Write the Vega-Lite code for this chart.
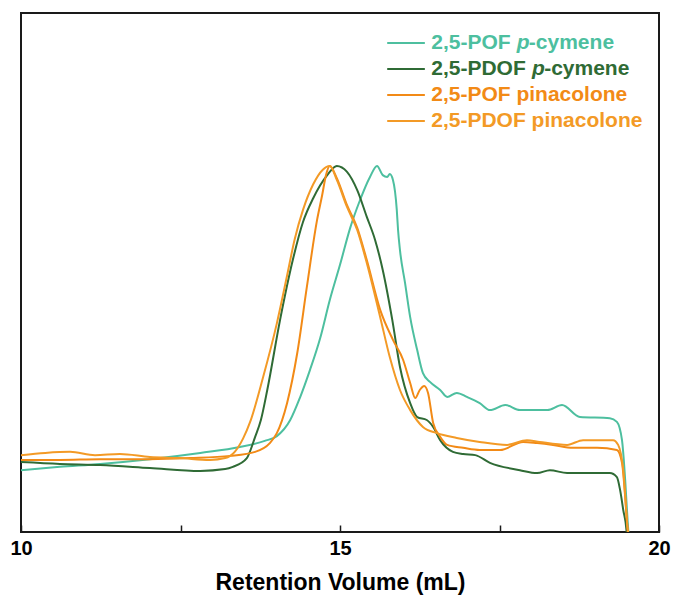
{
  "$schema": "https://vega.github.io/schema/vega-lite/v6.json",
  "width": 638,
  "height": 519,
  "autosize": {"type": "none"},
  "padding": {"left": 21, "top": 13, "right": 14, "bottom": 71},
  "background": "#ffffff",
  "config": {
    "view": {"stroke": "#1a1a1a", "strokeWidth": 2},
    "font": "Liberation Sans"
  },
  "datasets": {
    "traces": [
      {"series": "2,5-POF p-cymene", "v": 10.00, "i": 0.169},
      {"series": "2,5-POF p-cymene", "v": 10.61, "i": 0.178},
      {"series": "2,5-POF p-cymene", "v": 11.24, "i": 0.186},
      {"series": "2,5-POF p-cymene", "v": 12.02, "i": 0.199},
      {"series": "2,5-POF p-cymene", "v": 12.81, "i": 0.216},
      {"series": "2,5-POF p-cymene", "v": 13.43, "i": 0.232},
      {"series": "2,5-POF p-cymene", "v": 13.82, "i": 0.249},
      {"series": "2,5-POF p-cymene", "v": 14.01, "i": 0.262},
      {"series": "2,5-POF p-cymene", "v": 14.22, "i": 0.306},
      {"series": "2,5-POF p-cymene", "v": 14.37, "i": 0.366},
      {"series": "2,5-POF p-cymene", "v": 14.53, "i": 0.443},
      {"series": "2,5-POF p-cymene", "v": 14.69, "i": 0.530},
      {"series": "2,5-POF p-cymene", "v": 14.84, "i": 0.634},
      {"series": "2,5-POF p-cymene", "v": 15.00, "i": 0.730},
      {"series": "2,5-POF p-cymene", "v": 15.16, "i": 0.831},
      {"series": "2,5-POF p-cymene", "v": 15.31, "i": 0.905},
      {"series": "2,5-POF p-cymene", "v": 15.47, "i": 0.970},
      {"series": "2,5-POF p-cymene", "v": 15.58, "i": 1.000},
      {"series": "2,5-POF p-cymene", "v": 15.67, "i": 0.975},
      {"series": "2,5-POF p-cymene", "v": 15.74, "i": 0.970},
      {"series": "2,5-POF p-cymene", "v": 15.78, "i": 0.978},
      {"series": "2,5-POF p-cymene", "v": 15.83, "i": 0.962},
      {"series": "2,5-POF p-cymene", "v": 15.89, "i": 0.880},
      {"series": "2,5-POF p-cymene", "v": 15.91, "i": 0.825},
      {"series": "2,5-POF p-cymene", "v": 15.94, "i": 0.770},
      {"series": "2,5-POF p-cymene", "v": 16.02, "i": 0.680},
      {"series": "2,5-POF p-cymene", "v": 16.10, "i": 0.587},
      {"series": "2,5-POF p-cymene", "v": 16.21, "i": 0.497},
      {"series": "2,5-POF p-cymene", "v": 16.30, "i": 0.434},
      {"series": "2,5-POF p-cymene", "v": 16.41, "i": 0.410},
      {"series": "2,5-POF p-cymene", "v": 16.57, "i": 0.388},
      {"series": "2,5-POF p-cymene", "v": 16.68, "i": 0.369},
      {"series": "2,5-POF p-cymene", "v": 16.83, "i": 0.380},
      {"series": "2,5-POF p-cymene", "v": 16.99, "i": 0.369},
      {"series": "2,5-POF p-cymene", "v": 17.19, "i": 0.352},
      {"series": "2,5-POF p-cymene", "v": 17.35, "i": 0.333},
      {"series": "2,5-POF p-cymene", "v": 17.59, "i": 0.347},
      {"series": "2,5-POF p-cymene", "v": 17.82, "i": 0.333},
      {"series": "2,5-POF p-cymene", "v": 18.25, "i": 0.333},
      {"series": "2,5-POF p-cymene", "v": 18.48, "i": 0.347},
      {"series": "2,5-POF p-cymene", "v": 18.76, "i": 0.314},
      {"series": "2,5-POF p-cymene", "v": 19.23, "i": 0.311},
      {"series": "2,5-POF p-cymene", "v": 19.34, "i": 0.301},
      {"series": "2,5-POF p-cymene", "v": 19.42, "i": 0.251},
      {"series": "2,5-POF p-cymene", "v": 19.47, "i": 0.142},
      {"series": "2,5-POF p-cymene", "v": 19.51, "i": 0.025},
      {"series": "2,5-POF p-cymene", "v": 19.53, "i": -0.022},

      {"series": "2,5-PDOF p-cymene", "v": 10.00, "i": 0.191},
      {"series": "2,5-PDOF p-cymene", "v": 10.61, "i": 0.186},
      {"series": "2,5-PDOF p-cymene", "v": 11.24, "i": 0.183},
      {"series": "2,5-PDOF p-cymene", "v": 12.02, "i": 0.175},
      {"series": "2,5-PDOF p-cymene", "v": 12.81, "i": 0.167},
      {"series": "2,5-PDOF p-cymene", "v": 13.20, "i": 0.172},
      {"series": "2,5-PDOF p-cymene", "v": 13.32, "i": 0.178},
      {"series": "2,5-PDOF p-cymene", "v": 13.54, "i": 0.202},
      {"series": "2,5-PDOF p-cymene", "v": 13.67, "i": 0.260},
      {"series": "2,5-PDOF p-cymene", "v": 13.76, "i": 0.306},
      {"series": "2,5-PDOF p-cymene", "v": 13.86, "i": 0.388},
      {"series": "2,5-PDOF p-cymene", "v": 14.06, "i": 0.579},
      {"series": "2,5-PDOF p-cymene", "v": 14.26, "i": 0.743},
      {"series": "2,5-PDOF p-cymene", "v": 14.42, "i": 0.847},
      {"series": "2,5-PDOF p-cymene", "v": 14.58, "i": 0.912},
      {"series": "2,5-PDOF p-cymene", "v": 14.80, "i": 0.975},
      {"series": "2,5-PDOF p-cymene", "v": 14.95, "i": 1.000},
      {"series": "2,5-PDOF p-cymene", "v": 15.11, "i": 0.984},
      {"series": "2,5-PDOF p-cymene", "v": 15.27, "i": 0.934},
      {"series": "2,5-PDOF p-cymene", "v": 15.42, "i": 0.861},
      {"series": "2,5-PDOF p-cymene", "v": 15.55, "i": 0.798},
      {"series": "2,5-PDOF p-cymene", "v": 15.67, "i": 0.716},
      {"series": "2,5-PDOF p-cymene", "v": 15.82, "i": 0.579},
      {"series": "2,5-PDOF p-cymene", "v": 15.94, "i": 0.451},
      {"series": "2,5-PDOF p-cymene", "v": 16.10, "i": 0.352},
      {"series": "2,5-PDOF p-cymene", "v": 16.21, "i": 0.314},
      {"series": "2,5-PDOF p-cymene", "v": 16.36, "i": 0.306},
      {"series": "2,5-PDOF p-cymene", "v": 16.46, "i": 0.287},
      {"series": "2,5-PDOF p-cymene", "v": 16.57, "i": 0.251},
      {"series": "2,5-PDOF p-cymene", "v": 16.77, "i": 0.219},
      {"series": "2,5-PDOF p-cymene", "v": 16.93, "i": 0.213},
      {"series": "2,5-PDOF p-cymene", "v": 17.12, "i": 0.210},
      {"series": "2,5-PDOF p-cymene", "v": 17.35, "i": 0.189},
      {"series": "2,5-PDOF p-cymene", "v": 17.82, "i": 0.169},
      {"series": "2,5-PDOF p-cymene", "v": 18.09, "i": 0.161},
      {"series": "2,5-PDOF p-cymene", "v": 18.29, "i": 0.169},
      {"series": "2,5-PDOF p-cymene", "v": 18.56, "i": 0.161},
      {"series": "2,5-PDOF p-cymene", "v": 19.23, "i": 0.161},
      {"series": "2,5-PDOF p-cymene", "v": 19.34, "i": 0.150},
      {"series": "2,5-PDOF p-cymene", "v": 19.39, "i": 0.115},
      {"series": "2,5-PDOF p-cymene", "v": 19.44, "i": 0.060},
      {"series": "2,5-PDOF p-cymene", "v": 19.49, "i": 0.005},
      {"series": "2,5-PDOF p-cymene", "v": 19.50, "i": -0.022},

      {"series": "2,5-POF pinacolone", "v": 10.00, "i": 0.197},
      {"series": "2,5-POF pinacolone", "v": 10.61, "i": 0.197},
      {"series": "2,5-POF pinacolone", "v": 11.24, "i": 0.199},
      {"series": "2,5-POF pinacolone", "v": 12.02, "i": 0.199},
      {"series": "2,5-POF pinacolone", "v": 12.65, "i": 0.202},
      {"series": "2,5-POF pinacolone", "v": 13.28, "i": 0.208},
      {"series": "2,5-POF pinacolone", "v": 13.67, "i": 0.219},
      {"series": "2,5-POF pinacolone", "v": 13.90, "i": 0.243},
      {"series": "2,5-POF pinacolone", "v": 14.01, "i": 0.270},
      {"series": "2,5-POF pinacolone", "v": 14.17, "i": 0.352},
      {"series": "2,5-POF pinacolone", "v": 14.33, "i": 0.489},
      {"series": "2,5-POF pinacolone", "v": 14.48, "i": 0.669},
      {"series": "2,5-POF pinacolone", "v": 14.64, "i": 0.852},
      {"series": "2,5-POF pinacolone", "v": 14.72, "i": 0.920},
      {"series": "2,5-POF pinacolone", "v": 14.78, "i": 0.975},
      {"series": "2,5-POF pinacolone", "v": 14.84, "i": 1.000},
      {"series": "2,5-POF pinacolone", "v": 14.95, "i": 0.967},
      {"series": "2,5-POF pinacolone", "v": 15.11, "i": 0.893},
      {"series": "2,5-POF pinacolone", "v": 15.27, "i": 0.831},
      {"series": "2,5-POF pinacolone", "v": 15.42, "i": 0.743},
      {"series": "2,5-POF pinacolone", "v": 15.63, "i": 0.607},
      {"series": "2,5-POF pinacolone", "v": 15.83, "i": 0.525},
      {"series": "2,5-POF pinacolone", "v": 15.99, "i": 0.470},
      {"series": "2,5-POF pinacolone", "v": 16.10, "i": 0.407},
      {"series": "2,5-POF pinacolone", "v": 16.18, "i": 0.366},
      {"series": "2,5-POF pinacolone", "v": 16.25, "i": 0.388},
      {"series": "2,5-POF pinacolone", "v": 16.32, "i": 0.399},
      {"series": "2,5-POF pinacolone", "v": 16.38, "i": 0.380},
      {"series": "2,5-POF pinacolone", "v": 16.46, "i": 0.298},
      {"series": "2,5-POF pinacolone", "v": 16.57, "i": 0.260},
      {"series": "2,5-POF pinacolone", "v": 16.68, "i": 0.238},
      {"series": "2,5-POF pinacolone", "v": 16.93, "i": 0.230},
      {"series": "2,5-POF pinacolone", "v": 17.19, "i": 0.224},
      {"series": "2,5-POF pinacolone", "v": 17.51, "i": 0.224},
      {"series": "2,5-POF pinacolone", "v": 17.87, "i": 0.246},
      {"series": "2,5-POF pinacolone", "v": 18.09, "i": 0.243},
      {"series": "2,5-POF pinacolone", "v": 18.34, "i": 0.238},
      {"series": "2,5-POF pinacolone", "v": 18.65, "i": 0.230},
      {"series": "2,5-POF pinacolone", "v": 19.03, "i": 0.230},
      {"series": "2,5-POF pinacolone", "v": 19.34, "i": 0.224},
      {"series": "2,5-POF pinacolone", "v": 19.42, "i": 0.189},
      {"series": "2,5-POF pinacolone", "v": 19.47, "i": 0.096},
      {"series": "2,5-POF pinacolone", "v": 19.51, "i": 0.005},
      {"series": "2,5-POF pinacolone", "v": 19.53, "i": -0.022},

      {"series": "2,5-PDOF pinacolone", "v": 10.00, "i": 0.210},
      {"series": "2,5-PDOF pinacolone", "v": 10.38, "i": 0.216},
      {"series": "2,5-PDOF pinacolone", "v": 10.77, "i": 0.219},
      {"series": "2,5-PDOF pinacolone", "v": 11.16, "i": 0.210},
      {"series": "2,5-PDOF pinacolone", "v": 11.55, "i": 0.213},
      {"series": "2,5-PDOF pinacolone", "v": 12.02, "i": 0.205},
      {"series": "2,5-PDOF pinacolone", "v": 12.49, "i": 0.202},
      {"series": "2,5-PDOF pinacolone", "v": 12.96, "i": 0.197},
      {"series": "2,5-PDOF pinacolone", "v": 13.20, "i": 0.202},
      {"series": "2,5-PDOF pinacolone", "v": 13.35, "i": 0.219},
      {"series": "2,5-PDOF pinacolone", "v": 13.48, "i": 0.255},
      {"series": "2,5-PDOF pinacolone", "v": 13.59, "i": 0.300},
      {"series": "2,5-PDOF pinacolone", "v": 13.79, "i": 0.420},
      {"series": "2,5-PDOF pinacolone", "v": 14.01, "i": 0.570},
      {"series": "2,5-PDOF pinacolone", "v": 14.17, "i": 0.700},
      {"series": "2,5-PDOF pinacolone", "v": 14.29, "i": 0.800},
      {"series": "2,5-PDOF pinacolone", "v": 14.42, "i": 0.880},
      {"series": "2,5-PDOF pinacolone", "v": 14.58, "i": 0.950},
      {"series": "2,5-PDOF pinacolone", "v": 14.73, "i": 0.990},
      {"series": "2,5-PDOF pinacolone", "v": 14.84, "i": 1.000},
      {"series": "2,5-PDOF pinacolone", "v": 14.95, "i": 0.962},
      {"series": "2,5-PDOF pinacolone", "v": 15.11, "i": 0.888},
      {"series": "2,5-PDOF pinacolone", "v": 15.27, "i": 0.825},
      {"series": "2,5-PDOF pinacolone", "v": 15.42, "i": 0.735},
      {"series": "2,5-PDOF pinacolone", "v": 15.63, "i": 0.587},
      {"series": "2,5-PDOF pinacolone", "v": 15.78, "i": 0.478},
      {"series": "2,5-PDOF pinacolone", "v": 15.94, "i": 0.388},
      {"series": "2,5-PDOF pinacolone", "v": 16.10, "i": 0.333},
      {"series": "2,5-PDOF pinacolone", "v": 16.30, "i": 0.287},
      {"series": "2,5-PDOF pinacolone", "v": 16.52, "i": 0.270},
      {"series": "2,5-PDOF pinacolone", "v": 16.83, "i": 0.257},
      {"series": "2,5-PDOF pinacolone", "v": 17.19, "i": 0.246},
      {"series": "2,5-PDOF pinacolone", "v": 17.62, "i": 0.238},
      {"series": "2,5-PDOF pinacolone", "v": 17.93, "i": 0.251},
      {"series": "2,5-PDOF pinacolone", "v": 18.13, "i": 0.246},
      {"series": "2,5-PDOF pinacolone", "v": 18.56, "i": 0.238},
      {"series": "2,5-PDOF pinacolone", "v": 18.81, "i": 0.251},
      {"series": "2,5-PDOF pinacolone", "v": 19.28, "i": 0.251},
      {"series": "2,5-PDOF pinacolone", "v": 19.36, "i": 0.238},
      {"series": "2,5-PDOF pinacolone", "v": 19.44, "i": 0.169},
      {"series": "2,5-PDOF pinacolone", "v": 19.51, "i": 0.005},
      {"series": "2,5-PDOF pinacolone", "v": 19.53, "i": -0.022}
    ],
    "keyLines": [
      {"series": "2,5-POF p-cymene", "x1": 15.74, "x2": 16.33, "y": 1.336},
      {"series": "2,5-PDOF p-cymene", "x1": 15.74, "x2": 16.33, "y": 1.265},
      {"series": "2,5-POF pinacolone", "x1": 15.74, "x2": 16.33, "y": 1.194},
      {"series": "2,5-PDOF pinacolone", "x1": 15.74, "x2": 16.33, "y": 1.123}
    ],
    "keyText": [
      {"series": "2,5-POF p-cymene", "x": 16.43, "y": 1.336, "text": "2,5-POF", "italic": false},
      {"series": "2,5-POF p-cymene", "x": 17.77, "y": 1.336, "text": "p", "italic": true},
      {"series": "2,5-POF p-cymene", "x": 17.96, "y": 1.336, "text": "-cymene", "italic": false},
      {"series": "2,5-PDOF p-cymene", "x": 16.43, "y": 1.265, "text": "2,5-PDOF", "italic": false},
      {"series": "2,5-PDOF p-cymene", "x": 18.01, "y": 1.265, "text": "p", "italic": true},
      {"series": "2,5-PDOF p-cymene", "x": 18.20, "y": 1.265, "text": "-cymene", "italic": false},
      {"series": "2,5-POF pinacolone", "x": 16.43, "y": 1.194, "text": "2,5-POF pinacolone", "italic": false},
      {"series": "2,5-PDOF pinacolone", "x": 16.43, "y": 1.123, "text": "2,5-PDOF pinacolone", "italic": false}
    ]
  },
  "layer": [
    {
      "data": {"name": "traces"},
      "mark": {"type": "line", "strokeWidth": 2, "interpolate": "monotone", "clip": true},
      "encoding": {
        "x": {
          "field": "v", "type": "quantitative",
          "scale": {"domain": [10, 20], "nice": false, "zero": false},
          "axis": {
            "title": "Retention Volume (mL)",
            "values": [10, 12.5, 15, 17.5, 20],
            "labelExpr": "datum.value % 5 === 0 ? format(datum.value, 'd') : ''",
            "grid": false, "domain": false,
            "tickColor": "#1a1a1a", "tickWidth": 1.5, "tickSize": -7,
            "labelPadding": 13, "labelFontSize": 20, "labelFontWeight": "bold",
            "labelColor": "#000000", "labelFont": "Liberation Sans",
            "labelFlush": false,
            "titleFontSize": 23, "titleFontWeight": "bold", "titleColor": "#000000",
            "titleFont": "Liberation Sans", "titlePadding": 13
          }
        },
        "y": {
          "field": "i", "type": "quantitative",
          "scale": {"domain": [0, 1.418], "nice": false, "zero": false},
          "axis": null
        },
        "color": {
          "field": "series", "type": "nominal",
          "scale": {
            "domain": ["2,5-POF p-cymene", "2,5-PDOF p-cymene", "2,5-POF pinacolone", "2,5-PDOF pinacolone"],
            "range": ["#4dbf9f", "#2f6b35", "#f28a16", "#f39a26"]
          },
          "legend": null
        },
        "detail": {"field": "series"}
      }
    },
    {
      "data": {"name": "keyLines"},
      "mark": {"type": "rule", "strokeWidth": 2},
      "encoding": {
        "x": {"field": "x1", "type": "quantitative"},
        "x2": {"field": "x2"},
        "y": {"field": "y", "type": "quantitative"},
        "color": {"field": "series", "type": "nominal", "legend": null}
      }
    },
    {
      "data": {"name": "keyText"},
      "transform": [{"filter": "!datum.italic"}],
      "mark": {"type": "text", "align": "left", "baseline": "middle", "fontSize": 21, "fontWeight": "bold", "font": "Liberation Sans"},
      "encoding": {
        "x": {"field": "x", "type": "quantitative"},
        "y": {"field": "y", "type": "quantitative"},
        "text": {"field": "text"},
        "color": {"field": "series", "type": "nominal", "legend": null}
      }
    },
    {
      "data": {"name": "keyText"},
      "transform": [{"filter": "datum.italic"}],
      "mark": {"type": "text", "align": "left", "baseline": "middle", "fontSize": 21, "fontWeight": "bold", "fontStyle": "italic", "font": "Liberation Sans"},
      "encoding": {
        "x": {"field": "x", "type": "quantitative"},
        "y": {"field": "y", "type": "quantitative"},
        "text": {"field": "text"},
        "color": {"field": "series", "type": "nominal", "legend": null}
      }
    }
  ]
}
